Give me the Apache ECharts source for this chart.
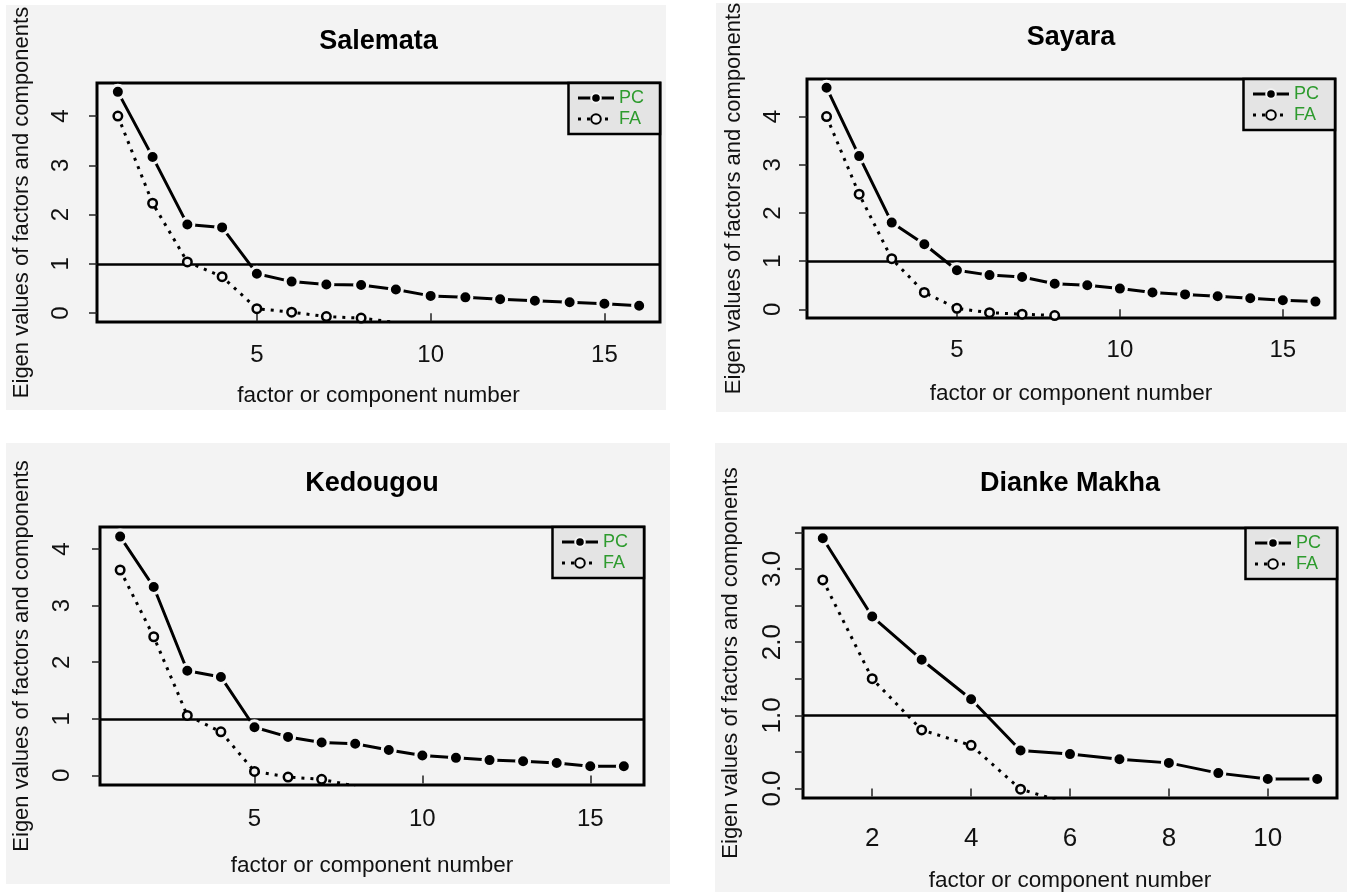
<!DOCTYPE html>
<html><head><meta charset="utf-8">
<script src="https://cdn.jsdelivr.net/npm/echarts@6/dist/echarts.min.js"></script>
<style>html,body{margin:0;padding:0;background:#fff}#c{width:1354px;height:892px}</style>
</head><body><div id="c"></div>
<script>
// ---------- data ----------
const titles = ['Salemata', 'Sayara', 'Kedougou', 'Dianke Makha'];
const components16 = [1, 2, 3, 4, 5, 6, 7, 8, 9, 10, 11, 12, 13, 14, 15, 16];
const components11 = [1, 2, 3, 4, 5, 6, 7, 8, 9, 10, 11];

const salemataPC = [4.49, 3.17, 1.80, 1.74, 0.80, 0.64, 0.58, 0.57, 0.48, 0.35, 0.32, 0.28, 0.25, 0.22, 0.19, 0.15];
const salemataFA = [4.00, 2.23, 1.04, 0.74, 0.09, 0.02, -0.07, -0.10, -0.19];

const sayaraPC = [4.60, 3.18, 1.80, 1.35, 0.81, 0.71, 0.67, 0.53, 0.50, 0.43, 0.35, 0.31, 0.27, 0.23, 0.19, 0.16];
const sayaraFA = [4.00, 2.39, 1.05, 0.35, 0.02, -0.07, -0.10, -0.13];

const kedougouPC = [4.22, 3.33, 1.85, 1.74, 0.85, 0.68, 0.58, 0.56, 0.45, 0.35, 0.31, 0.27, 0.25, 0.22, 0.16, 0.16];
const kedougouFA = [3.63, 2.45, 1.06, 0.77, 0.07, -0.03, -0.07, -0.19];

const diankePC = [3.42, 2.35, 1.76, 1.22, 0.52, 0.47, 0.40, 0.35, 0.21, 0.13, 0.13];
const diankeFA = [2.85, 1.50, 0.80, 0.59, -0.01, -0.21];

const xTicksLong = [5, 10, 15];
const xTicksShort = [2, 4, 6, 8, 10];
const yTicksInt = [0, 1, 2, 3, 4];
const yTicksHalf = [0, 0.5, 1, 1.5, 2, 2.5, 3, 3.5];
const yLabelsHalf = [0, 1, 2, 3];
const kaiserLine = 1;
const legendNames = ['PC', 'FA'];
const xAxisName = 'factor or component number';
const yAxisName = 'Eigen values of factors and components';

// ---------- layout / style ----------
const FONT = "'Liberation Sans', Arial, sans-serif";
const PANEL_BG = '#f3f3f3';
const panels = [
  { title: titles[0], x: components16, pc: salemataPC, fa: salemataFA, xTicks: xTicksLong, yTicks: yTicksInt, yLabels: yTicksInt, dec: 0,
    xRange: [0.4, 16.6], yRange: [-0.18, 4.67], box: { left: 97, top: 83, width: 563, height: 239 }, bg: [6, 5, 660, 405],
    titleTop: 28, tickFont: 24, xLabelMargin: 21, xNameGap: 62, yLabelMargin: 24, yNameGap: 64 },
  { title: titles[1], x: components16, pc: sayaraPC, fa: sayaraFA, xTicks: xTicksLong, yTicks: yTicksInt, yLabels: yTicksInt, dec: 0,
    xRange: [0.4, 16.6], yRange: [-0.18, 4.78], box: { left: 807, top: 79, width: 528, height: 239 }, bg: [716, 3, 630, 409],
    titleTop: 24, tickFont: 24, xLabelMargin: 20, xNameGap: 64, yLabelMargin: 22, yNameGap: 62 },
  { title: titles[2], x: components16, pc: kedougouPC, fa: kedougouFA, xTicks: xTicksLong, yTicks: yTicksInt, yLabels: yTicksInt, dec: 0,
    xRange: [0.4, 16.6], yRange: [-0.17, 4.39], box: { left: 100, top: 527, width: 544, height: 258 }, bg: [6, 443, 664, 441],
    titleTop: 470, tickFont: 24, xLabelMargin: 22, xNameGap: 69, yLabelMargin: 26, yNameGap: 67 },
  { title: titles[3], x: components11, pc: diankePC, fa: diankeFA, xTicks: xTicksShort, yTicks: yTicksHalf, yLabels: yLabelsHalf, dec: 1,
    xRange: [0.6, 11.4], yRange: [-0.13, 3.56], box: { left: 803, top: 528, width: 534, height: 270 }, bg: [715, 443, 632, 449],
    titleTop: 470, tickFont: 26, xLabelMargin: 28, xNameGap: 71, yLabelMargin: 17, yNameGap: 61 }
];

const W = 1354;
const grid = [], xAxis = [], yAxis = [], series = [], title = [], legend = [], graphic = [];

panels.forEach((p, i) => {
  graphic.push({ type: 'rect', z: -10, silent: true,
    shape: { x: p.bg[0], y: p.bg[1], width: p.bg[2], height: p.bg[3] },
    style: { fill: PANEL_BG } });

  grid.push({ left: p.box.left, top: p.box.top, width: p.box.width, height: p.box.height,
    containLabel: false, outerBoundsMode: 'none',
    show: true, borderColor: '#000', borderWidth: 3, backgroundColor: 'transparent' });

  title.push({ text: p.title, left: p.box.left + p.box.width / 2, top: p.titleTop, textAlign: 'center', padding: 0,
    textStyle: { fontFamily: FONT, fontSize: 27, fontWeight: 'bold', color: '#000' } });

  xAxis.push({ gridIndex: i, type: 'value', min: p.xRange[0], max: p.xRange[1],
    axisLine: { show: false }, splitLine: { show: false },
    axisTick: { show: true, customValues: p.xTicks, length: 8, lineStyle: { color: '#222', width: 1.5 } },
    axisLabel: { customValues: p.xTicks, margin: p.xLabelMargin, fontSize: p.tickFont, fontFamily: FONT, color: '#111' },
    name: xAxisName, nameLocation: 'middle', nameGap: p.xNameGap,
    nameTextStyle: { fontSize: 22.5, fontFamily: FONT, color: '#111' } });

  yAxis.push({ gridIndex: i, type: 'value', min: p.yRange[0], max: p.yRange[1],
    axisLine: { show: false }, splitLine: { show: false },
    axisTick: { show: true, customValues: p.yTicks, length: 8, lineStyle: { color: '#222', width: 1.5 } },
    axisLabel: { customValues: p.yLabels, rotate: 90, margin: p.yLabelMargin, fontSize: p.tickFont, fontFamily: FONT, color: '#111',
      formatter: v => Number(v).toFixed(p.dec) },
    name: yAxisName, nameLocation: 'middle', nameGap: p.yNameGap,
    nameTextStyle: { fontSize: 22, fontFamily: FONT, color: '#111' } });

  series.push({
    name: legendNames[0], type: 'line', xAxisIndex: i, yAxisIndex: i, z: 4,
    data: p.x.map((c, k) => [c, p.pc[k]]),
    symbol: 'circle', symbolSize: 13,
    itemStyle: { color: '#000', borderColor: PANEL_BG, borderWidth: 3 },
    lineStyle: { color: '#000', width: 3, type: 'solid' },
    markLine: { silent: true, symbol: 'none', label: { show: false }, z: 1,
      lineStyle: { color: '#000', width: 2.5, type: 'solid' },
      data: [{ yAxis: kaiserLine }] }
  });
  series.push({
    name: legendNames[1], type: 'line', xAxisIndex: i, yAxisIndex: i, z: 3,
    data: p.fa.map((v, k) => [p.x[k], v]),
    symbol: 'circle', symbolSize: 8.5,
    itemStyle: { color: PANEL_BG, borderColor: '#000', borderWidth: 2.5 },
    lineStyle: { color: '#000', width: 3, type: [3, 6] }
  });

  legend.push({ data: legendNames, orient: 'vertical', selectedMode: false,
    right: W - (p.box.left + p.box.width), top: p.box.top,
    backgroundColor: '#e4e4e4', borderColor: '#000', borderWidth: 2.5, borderRadius: 0,
    padding: [6, 16, 6, 8], itemGap: 3, itemWidth: 36, itemHeight: 12,
    lineStyle: { width: 3 },
    textStyle: { color: '#2e9b2e', fontSize: 18, fontFamily: FONT } });
});

const chart = echarts.init(document.getElementById('c'), null, { renderer: 'canvas' });
chart.setOption({ animation: false, backgroundColor: '#fff', grid, xAxis, yAxis, series, title, legend, graphic });
</script>
</body></html>
